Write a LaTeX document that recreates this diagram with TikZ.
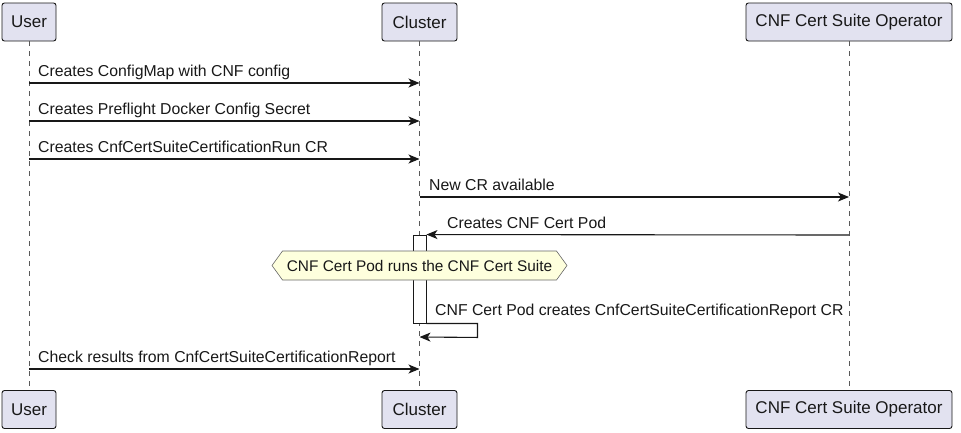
\documentclass[tikz,border=0pt]{standalone}
\usepackage{fontspec}
\setmainfont{Liberation Sans}
\usetikzlibrary{arrows.meta}
\definecolor{partfill}{HTML}{E2E2F0}
\definecolor{ink}{HTML}{181818}
\definecolor{notefill}{HTML}{FEFFDD}
\tikzset{
  part/.style={draw=ink, fill=partfill, line width=0.9pt, rounded corners=2.5pt,
    inner sep=0pt, minimum height=38pt, font=\fontsize{17}{20}\selectfont, text=ink},
  life/.style={draw=gray!70!black, line width=0.8pt, dash pattern=on 5pt off 5pt},
  msg/.style={draw=ink, line width=1.1pt, -{Stealth[length=11pt,width=9pt,inset=3pt]}},
  lbl/.style={anchor=base west, inner sep=0pt, font=\fontsize{15.8}{18}\selectfont, text=ink},
  actbox/.style={draw=ink, fill=white, line width=0.9pt, minimum width=13pt, minimum height=88pt, inner sep=0pt},
  notetext/.style={inner sep=0pt, font=\fontsize{15.4}{18}\selectfont, text=ink},
  notebox/.style={draw=gray!80!black, fill=notefill, line width=0.6pt}
}
\begin{document}
\begin{tikzpicture}[x=1pt,y=-1pt]
\useasboundingbox (0,0) rectangle (961,432);
% participants
\node[part, minimum width=54pt] (u1) at (29,22) {User};
\node[part, minimum width=75pt] (c1) at (419.5,22) {Cluster};
\node[part, minimum width=206pt] (o1) at (849,22) {CNF Cert Suite Operator};
\node[part, minimum width=54pt] (u2) at (29,409.5) {User};
\node[part, minimum width=75pt] (c2) at (419.5,409.5) {Cluster};
\node[part, minimum width=206pt] (o2) at (849,409.5) {CNF Cert Suite Operator};
% lifelines
\draw[life] (u1.south) -- (u2.north);
\draw[life] (c1.south) -- (c2.north);
\draw[life] (o1.south) -- (o2.north);
% messages
\draw[msg] (u1.south |- 0,83) -- (c1.south |- 0,83);
\node[lbl] (m1) at (38,76) {Creates ConfigMap with CNF config};
\draw[msg] (u1.south |- 0,121) -- (c1.south |- 0,121);
\node[lbl] (m2) at (38,114) {Creates Preflight Docker Config Secret};
\draw[msg] (u1.south |- 0,159) -- (c1.south |- 0,159);
\node[lbl] (m3) at (38,152) {Creates CnfCertSuiteCertificationRun CR};
\draw[msg] (c1.south |- 0,197) -- (o1.south |- 0,197);
\node[lbl] (m4) at (429,190) {New CR available};
% activation
\node[actbox] (act) at (419.5,279) {};
\draw[msg] (o1.south |- 0,235) -- (act.north east);
\node[lbl] (m5) at (447,228) {Creates CNF Cert Pod};
% note (hexagon)
\coordinate (nc) at (419.5,265.5);
\draw[notebox] ([shift={(-137,-14.5)}]nc) -- ([shift={(137,-14.5)}]nc) -- ([shift={(147.5,0)}]nc)
  -- ([shift={(137,14.5)}]nc) -- ([shift={(-137,14.5)}]nc) -- ([shift={(-147.5,0)}]nc) -- cycle;
\node[notetext] (note) at (nc) {CNF Cert Pod runs the CNF Cert Suite};
% self message
\draw[msg] (act.south east) -- ++(51,0) -- ++(0,14) -- (c1.south |- 0,337);
\node[lbl] (m6) at (435,315) {CNF Cert Pod creates CnfCertSuiteCertificationReport CR};
% last
\draw[msg] (u1.south |- 0,369) -- (c1.south |- 0,369);
\node[lbl] (m7) at (38,362) {Check results from CnfCertSuiteCertificationReport};
\end{tikzpicture}
\end{document}
